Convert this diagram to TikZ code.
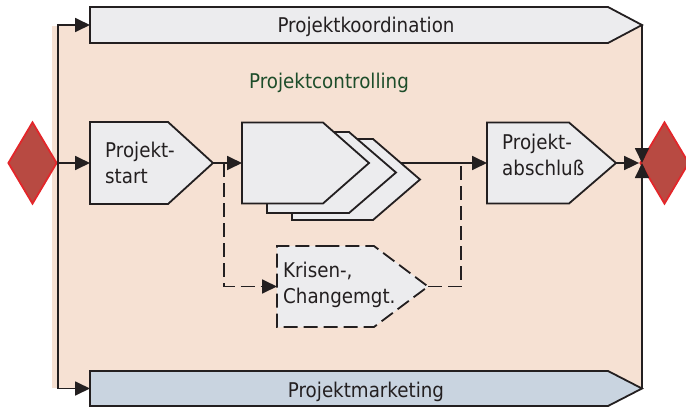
\documentclass[tikz,border=0pt]{standalone}
\usepackage{fontspec}
\setmainfont{DejaVu Sans}[FakeStretch=0.9]
\usetikzlibrary{shapes.symbols,shapes.geometric,arrows.meta}

\definecolor{peach}{HTML}{F6E1D3}
\definecolor{boxgray}{HTML}{ECECEE}
\definecolor{boxblue}{HTML}{C9D4E0}
\definecolor{linegray}{HTML}{231F20}
\definecolor{ctrlgreen}{HTML}{1D4D2A}
\definecolor{gatefill}{HTML}{B84A42}
\definecolor{gateline}{HTML}{E3262A}

\pgfdeclarelayer{back}
\pgfsetlayers{back,main}

\tikzset{
	phase/.style={signal, signal to=east, draw=linegray, fill=boxgray, line width=1.8pt,
		inner sep=0pt, outer sep=0pt, anchor=west},
	gate/.style={diamond, draw=gateline, fill=gatefill, line width=1.8pt, inner sep=0pt,
		minimum width=49pt, minimum height=82pt},
	tip/.style={-{Triangle[length=15pt,width=14pt]}},
	flow/.style={draw=linegray, line width=1.8pt, tip},
	dashline/.style={draw=linegray, line width=1.8pt, dash pattern=on 14pt off 6pt},
	txt/.style={font=\fontsize{20.3}{26}\selectfont, text=linegray, inner sep=0pt, align=left},
}

\begin{document}
\begin{tikzpicture}[x=1pt,y=-1pt]
	\useasboundingbox (0,0) rectangle (686,407);
	\begin{pgfonlayer}{back}
		\fill[peach] (52,26) rectangle (641,388);
	\end{pgfonlayer}

	\node[gate] (begin) at (32.5,163) {};
	\node[gate] (finish) at (664.5,163) {};

	\node[phase, minimum width=552pt, minimum height=36pt, signal pointer angle=55.8] (koord) at (90,25) {};
	\node[phase, minimum width=552pt, minimum height=35pt, signal pointer angle=54.5, fill=boxblue] (marketing) at (90,388.5) {};
	\node[txt, anchor=base] (koordtxt) at (366,32.5) {Projektkoordination};
	\node[txt, anchor=base] (marketingtxt) at (366,397) {Projektmarketing};
	\node[txt, anchor=base, text=ctrlgreen] (controlling) at (329,88) {Projektcontrolling};

	\node[phase, minimum width=123pt, minimum height=82pt, signal pointer angle=84.7] (start) at (90,163) {};
	\node[txt, anchor=base west] (starttxt) at (105,183) {Projekt-\\start};

	\node[phase, minimum width=128pt, minimum height=81pt, signal pointer angle=81.5] (stack3) at (292,179.5) {};
	\node[phase, minimum width=129pt, minimum height=81pt, signal pointer angle=81.5] (stack2) at (267,172.5) {};
	\node[phase, minimum width=127pt, minimum height=81pt, signal pointer angle=82.7] (stack1) at (242,163) {};

	\node[phase, minimum width=129pt, minimum height=81pt, signal pointer angle=81.5] (abschluss) at (487,163) {};
	\node[txt, anchor=base west] (abschlusstxt) at (502,175) {Projekt-\\abschluß};

	\node[phase, minimum width=151pt, minimum height=81pt, signal pointer angle=73.7,
		dash pattern=on 14pt off 6pt] (krisen) at (277,286.5) {};
	\node[txt, anchor=base west] (krisentxt) at (283,303.5) {Krisen-,\\Changemgt.};

	\coordinate (fork) at (224,163);
	\coordinate (merge) at (461,163);

	\draw[flow] (begin.east) -- (start.west);
	\draw[flow] (begin.east) |- (koord.west);
	\draw[flow] (begin.east) |- (marketing.west);
	\draw[flow] (start.east) -- (stack1.west);
	\begin{pgfonlayer}{back}
		\draw[flow] (stack1.east) -- (abschluss.west);
	\end{pgfonlayer}
	\draw[dashline, tip] (fork) |- (krisen.west);
	\draw[dashline] (krisen.east) -| (merge);
	\draw[flow] (abschluss.east) -- (finish.west);
	\draw[flow] (koord.east) -- (koord.east |- finish.west);
	\draw[flow] (marketing.east) -- (marketing.east |- finish.west);
\end{tikzpicture}
\end{document}
